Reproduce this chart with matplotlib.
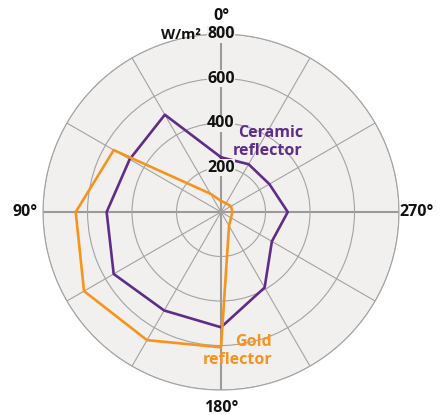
import numpy as np
import matplotlib
matplotlib.use("Agg")
from matplotlib import pyplot as plt

plt.rcParams['font.family'] = ['Open Sans', 'DejaVu Sans']

# angles in degrees, counter-clockwise from the top
angles = [0, 30, 60, 90, 120, 150, 180, 210, 240, 270, 300, 330]
ceramic = [246, 505, 474, 514, 557, 511, 518, 392, 264, 300, 251, 248]
gold = [50, 95, 557, 653, 711, 665, 608, 72, 52, 51, 52, 45]

radial_ticks = [200, 400, 600, 800]
radial_labels = ['200', '400', '600', '800']
cardinal_angles = [0, 90, 180, 270]
cardinal_labels = ['0°', '90°', '180°', '270°']

face = '#f1f0ef'
grid_col = '#a3a3a3'
purple = '#5f2c88'
orange = '#f7941d'

fig = plt.figure(figsize=(4.43, 4.15), dpi=100)
ax = fig.add_axes([0.0971, 0.0602, 0.8036, 0.8578], projection='polar')
ax.set_theta_zero_location('N')
ax.set_theta_direction(1)
ax.set_facecolor(face)
ax.set_ylim(0, 800)

ax.set_thetagrids(np.arange(0, 360, 30), [''] * 12)
ax.set_rgrids(radial_ticks, [''] * len(radial_ticks))
ax.tick_params(length=0)
ax.grid(True, color=grid_col, linewidth=0.8)
for i, gl in enumerate(ax.xaxis.get_gridlines()):
    if i % 3 == 0:
        gl.set_color('#9a9a9a')
        gl.set_linewidth(1.5)
ax.spines['polar'].set_color(grid_col)
ax.spines['polar'].set_linewidth(0.8)

def closed(vals):
    return vals + vals[:1]

theta = np.deg2rad(closed(angles))
ax.plot(theta, closed(ceramic), color=purple, linewidth=1.9, zorder=3)
ax.plot(theta, closed(gold), color=orange, linewidth=1.9, zorder=3)

for r, lab in zip(radial_ticks, radial_labels):
    ax.text(0, r, lab, ha='center', va='center', fontsize=11.5,
            fontweight='bold', color='#111111', zorder=4,
            bbox=dict(facecolor=face, edgecolor='none', pad=0.3))
ax.text(np.deg2rad(12.8), 818, 'W/m²', ha='center', va='center', fontsize=10.5,
        fontweight='bold', color='#111111', zorder=4)

for a, lab in zip(cardinal_angles, cardinal_labels):
    ax.text(np.deg2rad(a), 880, lab, ha='center', va='center', fontsize=11.5,
            fontweight='bold', color='#111111')

fig.text(303 / 443, 1 - 142 / 415, 'Ceramic\nreflector', ha='right', va='center',
         fontsize=11.5, fontweight='bold', color=purple, linespacing=1.1)
fig.text(272 / 443, 1 - 351 / 415, 'Gold\nreflector', ha='right', va='center',
         fontsize=11.5, fontweight='bold', color=orange, linespacing=1.1)

fig.savefig('out.png', dpi=100)
